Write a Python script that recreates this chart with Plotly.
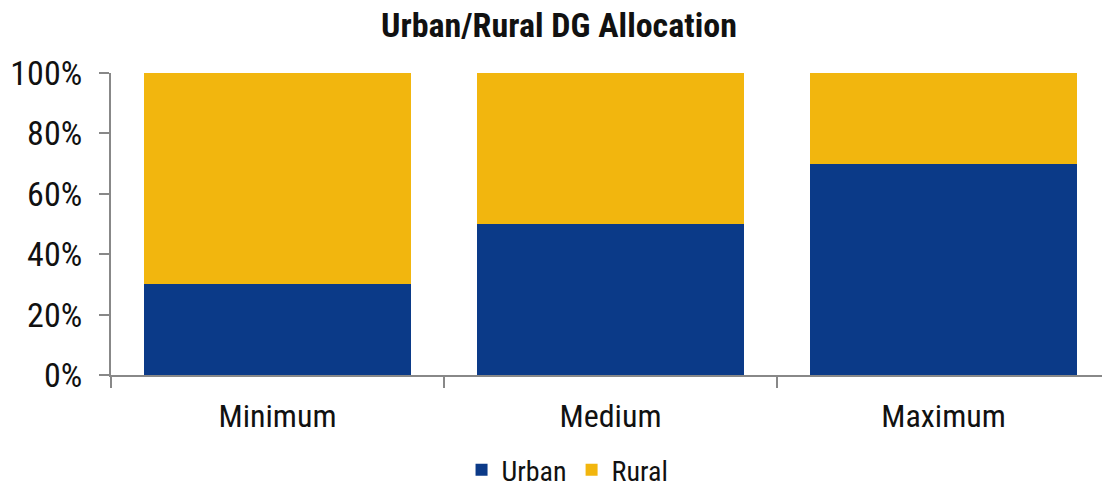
import plotly.graph_objects as go

categories = ["Minimum", "Medium", "Maximum"]
urban = [30, 50, 70]
rural = [70, 50, 30]
y_ticks = [0, 20, 40, 60, 80, 100]
y_tick_labels = ["0%", "20%", "40%", "60%", "80%", "100%"]

FONT = "Roboto Condensed, Liberation Sans Narrow, Arial Narrow, sans-serif"

fig = go.Figure()
fig.add_trace(go.Bar(name="Urban", x=categories, y=urban, marker=dict(color="#0b3a88", line=dict(width=0))))
fig.add_trace(go.Bar(name="Rural", x=categories, y=rural, marker=dict(color="#f2b60e", line=dict(width=0))))

fig.update_layout(
    barmode="stack",
    bargap=0.2,
    width=1102, height=481,
    paper_bgcolor="white", plot_bgcolor="white",
    margin=dict(l=103, r=0, t=65, b=114, autoexpand=False),
    font=dict(family=FONT, color="#111111"),
    title=dict(text="<b>Urban/Rural DG Allocation</b>", x=0.5, xanchor="center", y=1.0, yanchor="top",
               pad=dict(t=5, b=0), font=dict(size=34, family=FONT, color="#111111")),
    legend=dict(orientation="h", x=0.457, xanchor="center", y=-0.232, yanchor="top",
                font=dict(size=28, family=FONT), traceorder="normal", itemwidth=30),
    showlegend=True,
)
fig.update_xaxes(showline=True, linecolor="#888888", linewidth=2, ticks="outside", tickson="boundaries",
                 ticklen=11, tickcolor="#888888", tickwidth=2, tickfont=dict(size=32, family=FONT),
                 ticklabelstandoff=12, automargin=False)
fig.update_yaxes(range=[0, 100], tickvals=y_ticks, ticktext=y_tick_labels, showgrid=False, zeroline=False,
                 showline=True, linecolor="#888888", linewidth=2, ticks="outside", ticklen=10,
                 tickcolor="#888888", tickwidth=2, tickfont=dict(size=34, family=FONT),
                 ticklabelstandoff=10, automargin=False)

fig.write_html("out.html")
